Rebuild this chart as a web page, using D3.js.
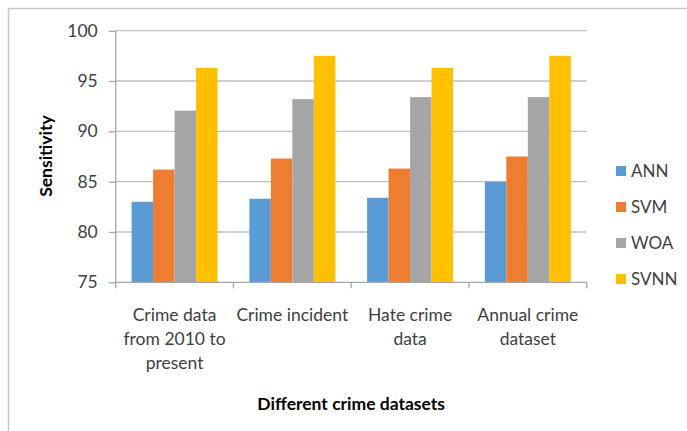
<!DOCTYPE html>
<html><head><meta charset="utf-8">
<script src="https://cdn.jsdelivr.net/npm/d3@7"></script>
<style>body{margin:0;background:#fff}svg{display:block;font-family:Lato,"Open Sans",sans-serif}</style>
</head><body><svg id="c" width="687" height="431"></svg>
<script>
const categories = [["Crime data","from 2010 to","present"],["Crime incident"],["Hate crime","data"],["Annual crime","dataset"]];
const seriesNames = ["ANN","SVM","WOA","SVNN"];
const ANN  = [83.0, 83.3, 83.4, 85.0];
const SVM  = [86.2, 87.3, 86.3, 87.5];
const WOA  = [92.05, 93.2, 93.4, 93.4];
const SVNN = [96.3, 97.5, 96.3, 97.5];
const yTicks = [75, 80, 85, 90, 95, 100];
const colors = ["#5b9bd5","#ed7d31","#a5a5a5","#ffc000"];
const seriesValues = [ANN, SVM, WOA, SVNN];

const svg = d3.select("#c");
const L = 115.7, R = 586.7, T = 30.7, B = 282.3;

// outer frame (top and left edges)
svg.append("path").attr("d","M8.5,431 V8.5 H687").attr("fill","none").attr("stroke","#c8c8c8").attr("stroke-width",1.5);

const idx = categories.map((d,i)=>i);
const x0 = d3.scaleBand().domain(idx).range([L,R]).paddingInner(0.27).paddingOuter(0.135);
const x1 = d3.scaleBand().domain(seriesNames).range([0,x0.bandwidth()]);
const y = d3.scaleLinear().domain([75,100]).range([B,T]);

// gridlines
svg.append("g").selectAll("line").data(yTicks.slice(1)).join("line")
  .attr("x1",L).attr("x2",R).attr("y1",d=>y(d)).attr("y2",d=>y(d))
  .attr("stroke","#bfbfbf").attr("stroke-width",1.3);

// bars
const g = svg.append("g");
seriesNames.forEach((s,si)=>{
  g.selectAll(null).data(seriesValues[si]).join("rect")
   .attr("x",(d,i)=>x0(i)+x1(s)).attr("width",x1.bandwidth())
   .attr("y",d=>y(d)).attr("height",d=>y(75)-y(d)).attr("fill",colors[si]);
});

// y axis
const ya = svg.append("g").attr("transform",`translate(${L},0)`)
  .call(d3.axisLeft(y).tickValues(yTicks).tickSize(7).tickPadding(11));
ya.select(".domain").attr("stroke","#a6a6a6").attr("stroke-width",1.3).attr("d",`M0,${B}V${T}`);
ya.selectAll(".tick line").attr("stroke","#a6a6a6").attr("stroke-width",1.3);
ya.selectAll(".tick text").attr("font-size",17.5).attr("fill","#404040").attr("font-family","Lato,sans-serif");

// x axis
const xa = svg.append("g").attr("transform",`translate(0,${B})`);
xa.append("line").attr("x1",L).attr("x2",R).attr("stroke","#a6a6a6").attr("stroke-width",1.3);
const step = x0.step();
const bounds = d3.range(categories.length+1).map(i=> i<categories.length ? x0(i)-x0.paddingInner()*step/2 : x0(i-1)+x0.bandwidth()+x0.paddingInner()*step/2);
xa.selectAll(".tk").data(bounds).join("line").attr("x1",d=>d).attr("x2",d=>d).attr("y1",0).attr("y2",6)
  .attr("stroke","#a6a6a6").attr("stroke-width",1.3);
const lab = svg.append("g").selectAll("text").data(categories).join("text")
  .attr("text-anchor","middle").attr("font-size",17.5).attr("fill","#404040")
  .attr("x",(d,i)=>x0(i)+x0.bandwidth()/2).attr("y",321);
lab.selectAll("tspan").data(d=>d).join("tspan")
  .attr("x",function(){return this.parentNode.getAttribute("x");})
  .attr("dy",(d,i)=>i===0?0:24).text(d=>d);

// axis titles
svg.append("text").attr("x",(L+R)/2).attr("y",410).attr("text-anchor","middle")
  .attr("font-size",17.5).attr("font-weight","bold").attr("fill","#000").text("Different crime datasets");
svg.append("text").attr("transform",`translate(52,156) rotate(-90)`).attr("text-anchor","middle")
  .attr("font-size",17.5).attr("font-weight","bold").attr("fill","#000").text("Sensitivity");

// legend
const lg = svg.append("g").selectAll("g").data(seriesNames).join("g")
  .attr("transform",(d,i)=>`translate(616,${171+i*36})`);
lg.append("rect").attr("x",0).attr("y",-5).attr("width",10).attr("height",10).attr("fill",(d,i)=>colors[i]);
lg.append("text").attr("x",15).attr("y",0).attr("dy","0.35em").attr("font-size",17).attr("fill","#404040").text(d=>d);
</script></body></html>
